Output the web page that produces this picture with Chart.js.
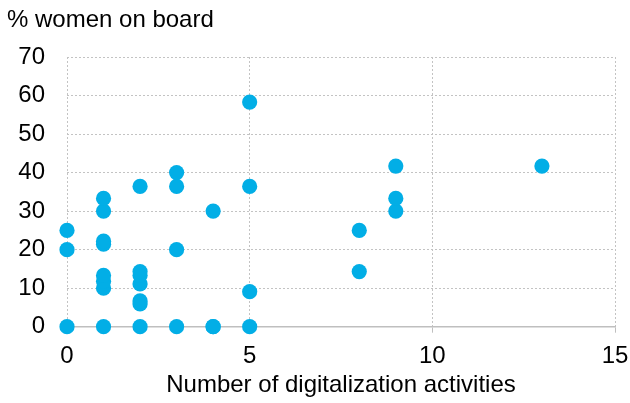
<!DOCTYPE html>
<html>
<head>
<meta charset="utf-8">
<script src="https://cdn.jsdelivr.net/npm/chart.js@4"></script>
<style>
    body { margin: 0; background: #fff; }
    #wrap { width: 630px; height: 403px; }
</style>
</head>
<body>
<div id="wrap"><canvas id="chart" width="630" height="403"></canvas></div>
<script>

// number of digitalization activities per company
const activities = [0, 0, 0,
    1, 1, 1, 1, 1, 1, 1, 1,
    2, 2, 2, 2, 2, 2, 2,
    3, 3, 3, 3,
    4, 4, 4,
    5, 5, 5, 5,
    8, 8,
    9, 9, 9,
    13];

// % women on board, same order as above
const womenOnBoard = [0, 20, 25,
    0, 10, 11.8, 13.3, 21.4, 22.2, 30, 33.3,
    0, 5.9, 6.7, 11.1, 13.3, 14.3, 36.4,
    0, 20, 36.4, 40,
    0, 0, 30,
    0, 9.1, 36.4, 58.3,
    14.3, 25,
    30, 33.3, 41.7,
    41.7];

const xTicks = [0, 5, 10, 15];
const yTicks = [0, 10, 20, 30, 40, 50, 60, 70];

const points = activities.map((x, i) => ({ x: x, y: womenOnBoard[i] }));

const FONT = 'Liberation Sans, Arial, sans-serif';

function build_scatter_chart(ctx) {

    Chart.defaults.font.family = FONT;
    Chart.defaults.color = '#000';

    new Chart(ctx, {
        type: 'scatter',
        data: {
            datasets: [{
                label: '% women on board',
                data: points,
                backgroundColor: '#02AEE6',
                borderWidth: 0,
                pointRadius: 7.6,
                pointHoverRadius: 7.6,
                clip: false
            }]
        },
        options: {
            responsive: false,
            animation: false,
            layout: {
                padding: { left: 7, right: 15, top: 0, bottom: 3 }
            },
            plugins: {
                legend: { display: false },
                tooltip: { enabled: false },
                title: {
                    display: true,
                    text: '% women on board',
                    align: 'start',
                    color: '#000',
                    font: { size: 24, weight: 'normal', family: FONT },
                    padding: { top: 5.6, bottom: 22.6 }
                }
            },
            scales: {
                x: {
                    type: 'linear',
                    min: 0,
                    max: 15,
                    afterBuildTicks: (scale) => {
                        scale.ticks = xTicks.map(v => ({ value: v }));
                    },
                    afterFit: (scale) => {
                        scale.height = 73.3;
                        scale.paddingLeft = 0;
                        scale.paddingRight = 0;
                    },
                    grid: {
                        color: '#c3c3c3',
                        tickLength: 6,
                        tickColor: '#bfbfbf',
                        tickBorderDash: []
                    },
                    border: { display: true, color: '#bfbfbf', width: 1.5, dash: [2, 2] },
                    ticks: {
                        padding: 12,
                        maxRotation: 0,
                        color: '#000',
                        font: { size: 24, lineHeight: 1 }
                    },
                    title: {
                        display: true,
                        text: 'Number of digitalization activities',
                        color: '#000',
                        font: { size: 24 },
                        padding: { top: 0, bottom: 0 }
                    }
                },
                y: {
                    type: 'linear',
                    min: 0,
                    max: 70,
                    afterBuildTicks: (scale) => {
                        scale.ticks = yTicks.map(v => ({ value: v }));
                    },
                    afterFit: (scale) => {
                        scale.width = 60;
                    },
                    grid: {
                        color: '#c3c3c3',
                        drawTicks: false
                    },
                    border: { display: false, dash: [2, 2] },
                    ticks: {
                        padding: 22,
                        color: '#000',
                        font: { size: 24 }
                    }
                }
            }
        }
    });
}

build_scatter_chart(document.getElementById('chart').getContext('2d'));
</script>
</body>
</html>
